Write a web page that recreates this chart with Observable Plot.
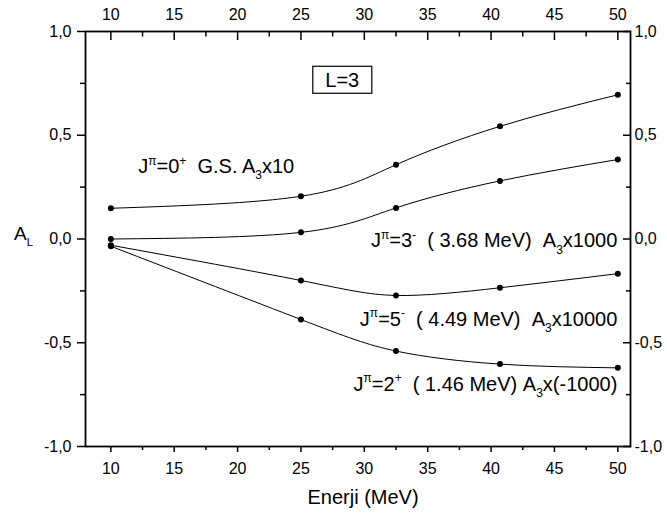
<!DOCTYPE html>
<html><head><meta charset="utf-8">
<script src="https://cdn.jsdelivr.net/npm/d3@7"></script>
<script src="https://cdn.jsdelivr.net/npm/@observablehq/plot@0.6"></script>
<style>
body{margin:0;background:#fff;}
</style>
</head><body><div id="chart"></div>
<script>
// Data
const energies = [10, 25, 32.5, 40.7, 50];
const seriesNames = ["0+ G.S.", "3- 3.68 MeV", "5- 4.49 MeV", "2+ 1.46 MeV"];
const gs0 = [0.148, 0.206, 0.358, 0.543, 0.695];
const j3 = [0.0, 0.032, 0.15, 0.28, 0.383];
const j5 = [-0.03, -0.2, -0.272, -0.235, -0.167];
const j2 = [-0.035, -0.388, -0.54, -0.603, -0.621];
const xMajorTicks = [10, 15, 20, 25, 30, 35, 40, 45, 50];
const xMinorTicks = [12.5, 17.5, 22.5, 27.5, 32.5, 37.5, 42.5, 47.5];
const yMajorTicks = [-1, -0.5, 0, 0.5, 1];
const yMinorTicks = [-0.75, -0.25, 0.25, 0.75];
const xLabel = "Enerji (MeV)";
const boxLabel = "L=3";

const seriesValues = [gs0, j3, j5, j2];
const data = seriesNames.flatMap((s, k) => energies.map((e, i) => ({series: s, x: e, y: seriesValues[k][i]})));
const fmt = d => d.toFixed(1).replace(".", ",");
const FONT = "Arial, 'Liberation Sans', Helvetica, sans-serif";

const plot = Plot.plot({
  width: 667, height: 516,
  marginLeft: 85, marginRight: 37, marginTop: 31, marginBottom: 70,
  style: {fontFamily: FONT, fontSize: "16px", color: "black", background: "white"},
  x: {domain: [8, 51]},
  y: {domain: [-1, 1]},
  marks: [
    Plot.axisX(xMajorTicks, {anchor: "bottom", tickSize: 6, tickPadding: 10, strokeWidth: 1.5, label: null}),
    Plot.axisX(xMinorTicks, {anchor: "bottom", tickSize: 4, tickFormat: () => "", strokeWidth: 1.5, label: null}),
    Plot.axisX(xMajorTicks, {anchor: "top", tickSize: -8, tickPadding: 20, strokeWidth: 1.5, label: null}),
    Plot.axisX(xMinorTicks, {anchor: "top", tickSize: -4.5, tickFormat: () => "", strokeWidth: 1.5, label: null}),
    Plot.axisY(yMajorTicks, {anchor: "left", tickSize: 8, tickPadding: 6, tickFormat: fmt, strokeWidth: 1.5, label: null}),
    Plot.axisY(yMinorTicks, {anchor: "left", tickSize: 5, tickFormat: () => "", strokeWidth: 1.5, label: null}),
    Plot.axisY(yMajorTicks, {anchor: "right", tickSize: -8, tickPadding: 12, tickFormat: fmt, strokeWidth: 1.5, label: null}),
    Plot.axisY(yMinorTicks, {anchor: "right", tickSize: -5, tickFormat: () => "", strokeWidth: 1.5, label: null}),
    Plot.frame({strokeWidth: 1.8}),
    Plot.line(data, {x: "x", y: "y", z: "series", curve: "natural", stroke: "black", strokeWidth: 1}),
    Plot.dot(data, {x: "x", y: "y", r: 3, fill: "black"}),
    Plot.text([xLabel], {frameAnchor: "bottom", dx: 5, dy: 57, lineAnchor: "bottom", fontSize: 20, text: d => d})
  ]
});
document.getElementById("chart").append(plot);

const sx = plot.scale("x"), sy = plot.scale("y");
const svg = d3.select(plot);
const g = svg.append("g").attr("font-family", FONT).attr("fill", "black");

function richText(px, py, parts, anchor, size) {
  const t = g.append("text").attr("x", px).attr("y", py)
    .attr("text-anchor", anchor).attr("font-size", size)
    .attr("xml:space", "preserve").style("white-space", "pre");
  let shift = 0;
  for (const p of parts) {
    const s = p.sup ? -0.42 : p.sub ? 0.32 : 0;
    const fs = (p.sup || p.sub) ? size * 0.6 : size;
    t.append("tspan").attr("font-size", fs).attr("dy", ((s - shift) * size).toFixed(2)).text(p.t);
    shift = s;
  }
  return t;
}

const annotations = [
  {x: 12.2, y: 0.316, anchor: "start", parts: [{t: "J"}, {t: "π", sup: 1}, {t: "=0"}, {t: "+", sup: 1}, {t: "  G.S. A"}, {t: "3", sub: 1}, {t: "x10"}]},
  {x: 50, y: -0.042, anchor: "end", parts: [{t: "J"}, {t: "π", sup: 1}, {t: "=3"}, {t: "-", sup: 1}, {t: "  ( 3.68 MeV)  A"}, {t: "3", sub: 1}, {t: "x1000"}]},
  {x: 50, y: -0.42, anchor: "end", parts: [{t: "J"}, {t: "π", sup: 1}, {t: "=5"}, {t: "-", sup: 1}, {t: "  ( 4.49 MeV)  A"}, {t: "3", sub: 1}, {t: "x10000"}]},
  {x: 50, y: -0.733, anchor: "end", parts: [{t: "J"}, {t: "π", sup: 1}, {t: "=2"}, {t: "+", sup: 1}, {t: "  ( 1.46 MeV) A"}, {t: "3", sub: 1}, {t: "x(-1000)"}]}
];
for (const a of annotations) richText(sx.apply(a.x), sy.apply(a.y), a.parts, a.anchor, 20);

// y-axis title A_L
richText(14, sy.apply(0) + 1, [{t: "A"}, {t: "L", sub: 1}], "start", 19);

// L=3 box
const bx = sx.apply(28.3), by = sy.apply(0.765);
g.append("rect").attr("x", bx - 29.5).attr("y", by - 13.5).attr("width", 59).attr("height", 27)
  .attr("fill", "white").attr("stroke", "black").attr("stroke-width", 1.2);
g.append("text").attr("x", bx).attr("y", by + 7).attr("text-anchor", "middle").attr("font-size", 20).text(boxLabel);
</script>
</body></html>
